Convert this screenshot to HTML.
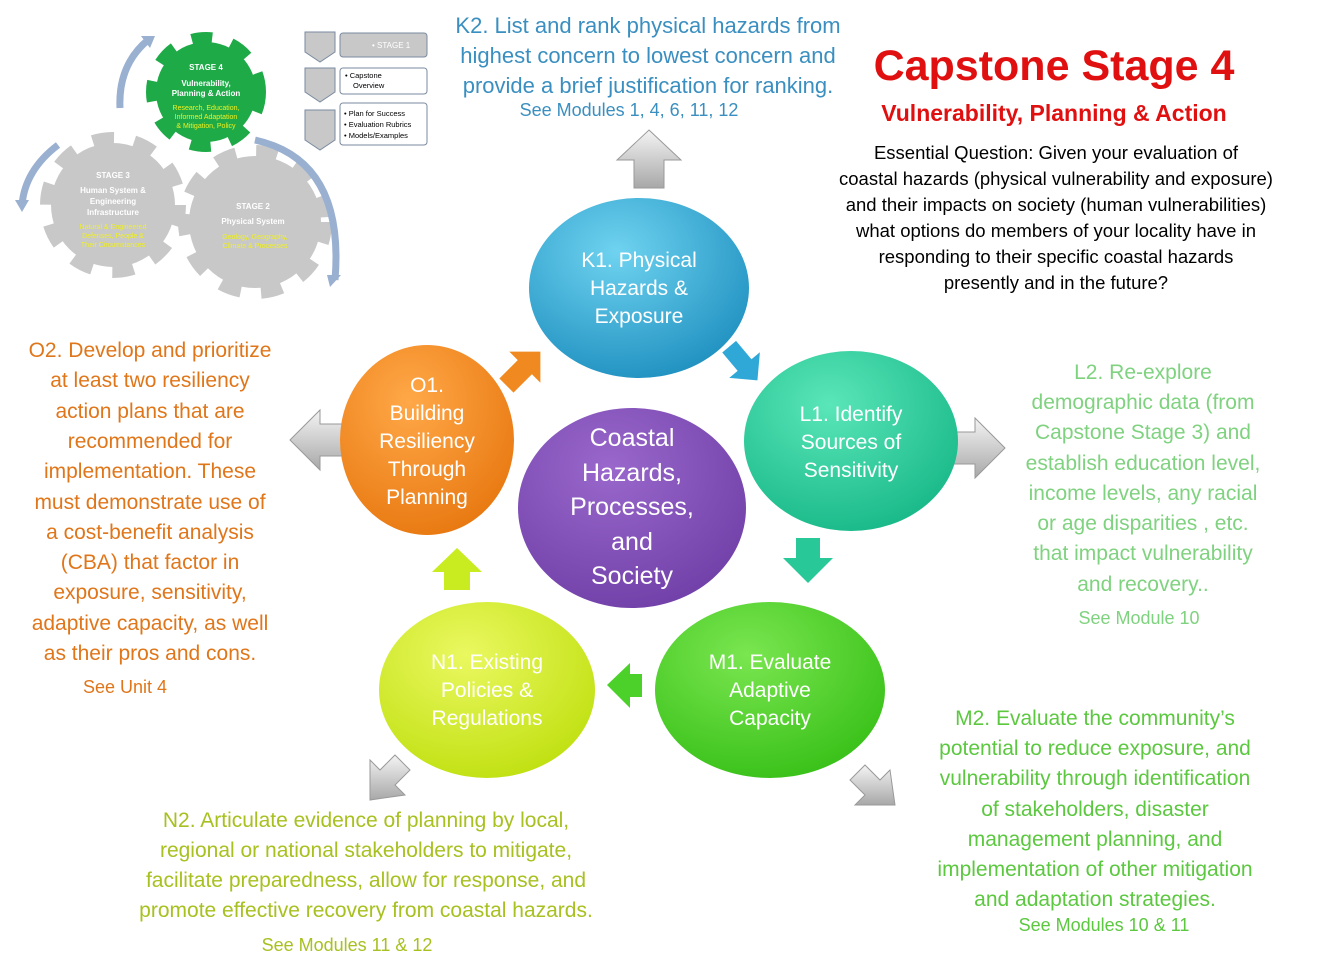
<!DOCTYPE html>
<html><head><meta charset="utf-8"><style>
html,body{margin:0;padding:0;background:#fff;}
svg{display:block;font-family:"Liberation Sans",sans-serif;}
</style></head><body>
<svg width="1320" height="972" viewBox="0 0 1320 972" xmlns="http://www.w3.org/2000/svg">
<defs>
<radialGradient id="gK" cx="40%" cy="30%" r="75%"><stop offset="0" stop-color="#6fd3f0"/><stop offset="1" stop-color="#1f90c0"/></radialGradient>
<radialGradient id="gL" cx="40%" cy="30%" r="75%"><stop offset="0" stop-color="#5ae6b8"/><stop offset="1" stop-color="#18b888"/></radialGradient>
<radialGradient id="gM" cx="40%" cy="30%" r="75%"><stop offset="0" stop-color="#7ae650"/><stop offset="1" stop-color="#38c018"/></radialGradient>
<radialGradient id="gN" cx="40%" cy="30%" r="75%"><stop offset="0" stop-color="#eaf860"/><stop offset="1" stop-color="#c0e010"/></radialGradient>
<radialGradient id="gO" cx="40%" cy="30%" r="75%"><stop offset="0" stop-color="#ffa848"/><stop offset="1" stop-color="#e87810"/></radialGradient>
<radialGradient id="gC" cx="40%" cy="30%" r="75%"><stop offset="0" stop-color="#9a68cc"/><stop offset="1" stop-color="#7040a8"/></radialGradient>
<linearGradient id="gray" x1="0" y1="0" x2="0" y2="1"><stop offset="0" stop-color="#f4f4f4"/><stop offset="1" stop-color="#a8a8a8"/></linearGradient>
</defs>

<!-- gears -->
<g>
<circle cx="113" cy="205" r="62" fill="none" stroke="#c8c8c8" stroke-width="22" stroke-dasharray="20 19"/>
<circle cx="113" cy="205" r="62" fill="#c8c8c8"/>
<circle cx="255" cy="222" r="66" fill="none" stroke="#c8c8c8" stroke-width="22" stroke-dasharray="20 19"/>
<circle cx="255" cy="222" r="66" fill="#c8c8c8"/>
<circle cx="206" cy="92" r="50" fill="none" stroke="#1faa48" stroke-width="20" stroke-dasharray="19 18"/>
<circle cx="206" cy="92" r="50" fill="#1faa48"/>
<path d="M120 108 Q118 65 148 40" fill="none" stroke="#9ab0d0" stroke-width="7"/>
<polygon points="141,36 155,36 150,48" fill="#9ab0d0"/>
<path d="M58 145 Q25 170 22 205" fill="none" stroke="#9ab0d0" stroke-width="7"/>
<polygon points="15,200 29,200 22,212" fill="#9ab0d0"/>
<path d="M255 140 Q345 160 335 280" fill="none" stroke="#9ab0d0" stroke-width="7"/>
<polygon points="327,275 341,275 330,287" fill="#9ab0d0"/>
<g fill="#fff" font-size="8" font-weight="bold" text-anchor="middle">
<text x="206" y="70">STAGE 4</text><text x="206" y="86">Vulnerability,</text><text x="206" y="96">Planning &amp; Action</text>
<text x="113" y="178">STAGE 3</text><text x="113" y="193">Human System &amp;</text><text x="113" y="204">Engineering</text><text x="113" y="215">Infrastructure</text>
<text x="253" y="209">STAGE 2</text><text x="253" y="224">Physical System</text>
</g>
<g fill="#f0f020" font-size="7" text-anchor="middle">
<text x="206" y="110">Research, Education,</text><text x="206" y="119">Informed Adaptation</text><text x="206" y="128">&amp; Mitigation, Policy</text>
<text x="113" y="229">Natural &amp; Engineered</text><text x="113" y="238">Defenses, People &amp;</text><text x="113" y="247">Their Circumstances</text>
<text x="255" y="239">Geology, Geography,</text><text x="255" y="248">Climate &amp; Processes</text>
</g>
</g>
<!-- chevrons -->
<g stroke="#7a8aa0" stroke-width="1" fill="#c8c8c8">
<polygon points="305,32 335,32 335,52 320,62 305,52"/>
<polygon points="305,68 335,68 335,92 320,102 305,92"/>
<polygon points="305,110 335,110 335,140 320,150 305,140"/>
</g>
<rect x="340" y="33" width="87" height="24" rx="3" fill="#c8c8c8" stroke="#7a8aa0"/>
<rect x="340" y="68" width="87" height="26" rx="3" fill="#fff" stroke="#7a8aa0"/>
<rect x="340" y="103" width="87" height="42" rx="3" fill="#fff" stroke="#7a8aa0"/>
<text x="372" y="48" font-size="8" fill="#fff">• STAGE 1</text>
<g font-size="7.5" fill="#000"><text x="345" y="78">• Capstone</text><text x="353" y="88">Overview</text>
<text x="344" y="116">• Plan for Success</text><text x="344" y="127">• Evaluation Rubrics</text><text x="344" y="138">• Models/Examples</text></g>

<!-- Title -->
<text x="1054" y="80" text-anchor="middle" font-size="43" font-weight="bold" fill="#e01010">Capstone Stage 4</text>
<text x="1054" y="121" text-anchor="middle" font-size="23" font-weight="bold" fill="#e01010">Vulnerability, Planning &amp; Action</text>
<g font-size="18.5" fill="#000" text-anchor="middle">
<text x="1056" y="159">Essential Question: Given your evaluation of</text>
<text x="1056" y="185">coastal hazards (physical vulnerability and exposure)</text>
<text x="1056" y="211">and their impacts on society (human vulnerabilities)</text>
<text x="1056" y="237">what options do members of your locality have  in</text>
<text x="1056" y="263">responding to their specific coastal hazards</text>
<text x="1056" y="289">presently and in the future?</text>
</g>

<!-- K2 -->
<g font-size="22" fill="#3a8fc0" text-anchor="middle">
<text x="648" y="33">K2. List and rank physical hazards from</text>
<text x="648" y="63">highest concern to lowest concern and</text>
<text x="648" y="93">provide a brief justification for ranking.</text>
<text x="629" y="116" font-size="18">See Modules 1, 4, 6, 11, 12</text>
</g>
<!-- O2 -->
<g font-size="21" fill="#e0761a" text-anchor="middle">
<text x="150" y="357">O2. Develop and prioritize</text>
<text x="150" y="387">at least two resiliency</text>
<text x="150" y="418">action plans that are</text>
<text x="150" y="448">recommended for</text>
<text x="150" y="478">implementation.  These</text>
<text x="150" y="509">must demonstrate use of</text>
<text x="150" y="539">a cost-benefit analysis</text>
<text x="150" y="569">(CBA) that factor in</text>
<text x="150" y="599">exposure, sensitivity,</text>
<text x="150" y="630">adaptive capacity, as well</text>
<text x="150" y="660">as their pros and cons.</text>
<text x="125" y="693" font-size="18">See Unit 4</text>
</g>
<!-- L2 -->
<g font-size="21" fill="#7fd27f" text-anchor="middle">
<text x="1143" y="379">L2. Re-explore</text>
<text x="1143" y="409">demographic data (from</text>
<text x="1143" y="439">Capstone Stage 3) and</text>
<text x="1143" y="470">establish education level,</text>
<text x="1143" y="500">income levels, any racial</text>
<text x="1143" y="530">or age disparities , etc.</text>
<text x="1143" y="560">that impact vulnerability</text>
<text x="1143" y="591">and recovery..</text>
<text x="1139" y="624" font-size="18">See Module 10</text>
</g>
<!-- M2 -->
<g font-size="21" fill="#5cc840" text-anchor="middle">
<text x="1095" y="725">M2. Evaluate the community’s</text>
<text x="1095" y="755">potential to reduce exposure, and</text>
<text x="1095" y="785">vulnerability through identification</text>
<text x="1095" y="816">of stakeholders, disaster</text>
<text x="1095" y="846">management planning, and</text>
<text x="1095" y="876">implementation of other mitigation</text>
<text x="1095" y="906">and adaptation  strategies.</text>
<text x="1104" y="931" font-size="18">See Modules 10 &amp; 11</text>
</g>
<!-- N2 -->
<g font-size="21" fill="#a8c020" text-anchor="middle">
<text x="366" y="827">N2. Articulate evidence of planning by local,</text>
<text x="366" y="857">regional or national stakeholders to mitigate,</text>
<text x="366" y="887">facilitate preparedness, allow for response, and</text>
<text x="366" y="917">promote effective recovery from coastal hazards.</text>
<text x="347" y="951" font-size="18">See Modules 11 &amp; 12</text>
</g>

<!-- gray big arrows -->
<g fill="url(#gray)" stroke="#999" stroke-width="1">
<polygon points="649,130 681,160 664,160 664,188 634,188 634,160 617,160"/>
<polygon points="1005,448 975,418 975,432 952,432 952,464 975,464 975,478"/>
<polygon points="290,440 320,410 320,424 345,424 345,456 320,456 320,470"/>
<polygon points="370,800 370,760 380,770 395,755 410,770 395,785 405,795"/>
<polygon points="895,805 855,805 865,795 850,780 865,765 880,780 890,770"/>
</g>
<!-- small colored arrows -->
<polygon points="0,-26 22,-4 10,-4 10,22 -10,22 -10,-4 -22,-4" fill="#f08a20" transform="translate(522,370) rotate(45)"/>
<polygon points="0,-24 20,-4 9,-4 9,20 -9,20 -9,-4 -20,-4" fill="#2fa8d8" transform="translate(742,362) rotate(140)"/>
<polygon points="808,583 833,558 820,558 820,538 796,538 796,558 783,558" fill="#28c898"/>
<polygon points="607,685 630,663 630,674 642,674 642,697 630,697 630,708" fill="#4cd02a"/>
<polygon points="457,548 482,572 470,572 470,590 444,590 444,572 432,572" fill="#c8ec20"/>

<!-- circles -->
<ellipse cx="639" cy="288" rx="110" ry="90" fill="url(#gK)"/>
<ellipse cx="851" cy="441" rx="107" ry="90" fill="url(#gL)"/>
<ellipse cx="770" cy="690" rx="115" ry="88" fill="url(#gM)"/>
<ellipse cx="487" cy="690" rx="108" ry="88" fill="url(#gN)"/>
<ellipse cx="427" cy="440" rx="87" ry="95" fill="url(#gO)"/>
<ellipse cx="632" cy="508" rx="114" ry="100" fill="url(#gC)"/>

<g fill="#fff" font-size="21" text-anchor="middle">
<text x="639" y="267">K1. Physical</text><text x="639" y="295">Hazards &amp;</text><text x="639" y="323">Exposure</text>
<text x="851" y="421">L1. Identify</text><text x="851" y="449">Sources of</text><text x="851" y="477">Sensitivity</text>
<text x="770" y="669">M1. Evaluate</text><text x="770" y="697">Adaptive</text><text x="770" y="725">Capacity</text>
<text x="487" y="669">N1. Existing</text><text x="487" y="697">Policies &amp;</text><text x="487" y="725">Regulations</text>
<text x="427" y="392">O1.</text><text x="427" y="420">Building</text><text x="427" y="448">Resiliency</text><text x="427" y="476">Through</text><text x="427" y="504">Planning</text>
<g font-size="25"><text x="632" y="446">Coastal</text><text x="632" y="481">Hazards,</text><text x="632" y="515">Processes,</text><text x="632" y="550">and</text><text x="632" y="584">Society</text></g>
</g>
</svg>
</body></html>
